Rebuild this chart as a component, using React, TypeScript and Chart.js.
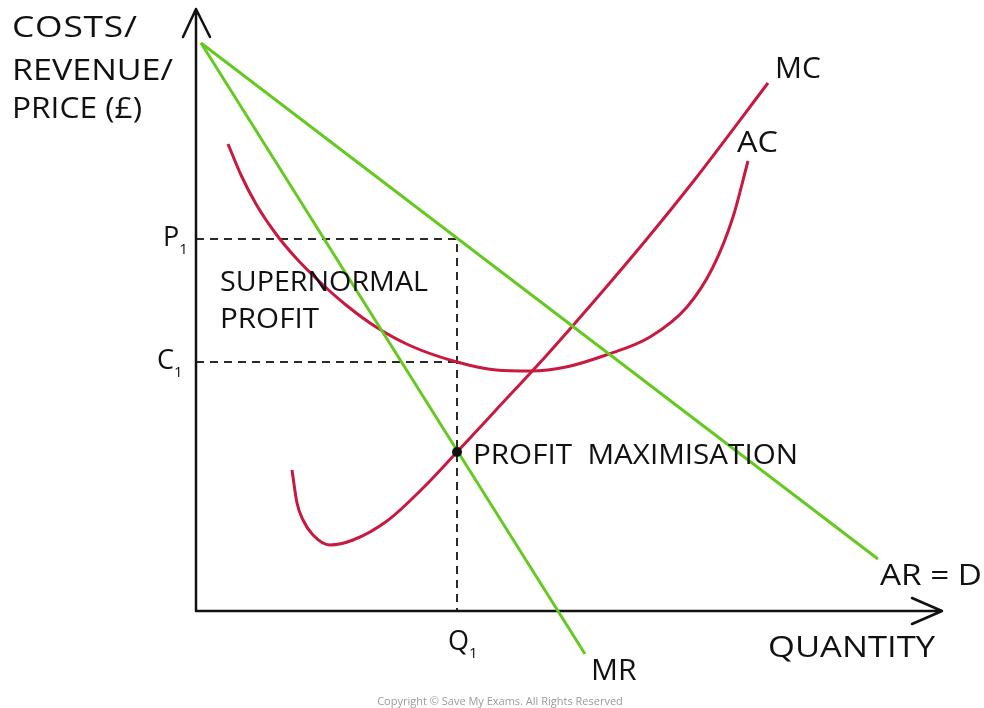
import React, { useEffect, useRef } from "react";
import { Chart, registerables } from "chart.js";

Chart.register(...registerables);

// ---- data (quantity on x, costs / revenue / price on y) ----
const mcQ = [9.6, 10.1, 10.7, 11.7, 13.4, 15.7, 19.1, 22.5, 26.1, 30.0, 35.0, 40.0, 45.0, 50.0, 57.2];
const mcP = [14.1, 10.8, 9.1, 7.6, 6.6, 7.1, 9.0, 12.1, 15.9, 20.1, 25.5, 31.2, 37.1, 43.3, 52.8];

const acQ = [3.2, 4.5, 6.0, 8.0, 10.0, 12.5, 15.0, 18.0, 21.5, 26.1, 30.0, 33.5, 37.0, 41.0, 45.4, 49.1, 51.7, 53.7, 55.2];
const acP = [46.7, 43.6, 40.7, 37.7, 35.3, 32.8, 30.6, 28.4, 26.5, 24.9, 24.1, 24.0, 24.4, 25.6, 27.4, 30.4, 34.4, 39.4, 45.0];

const arQ = [0.5, 68.2];
const arP = [56.8, 5.2];

const mrQ = [0.5, 38.9];
const mrP = [56.8, -4.3];

const Q1 = 26.1;
const P1 = 37.2;
const C1 = 24.9;
const profitMaxP = 15.9;

const xAxisEnd = 74.6;
const yAxisEnd = 60.2;

const RED = "#c8193f";
const GREEN = "#66c922";
const FONT = "'Open Sans', Lato, sans-serif";

const pts = (xs: number[], ys: number[]) => xs.map((x, i) => ({ x, y: ys[i] }));

export default function App() {
  const ref = useRef<HTMLCanvasElement | null>(null);

  useEffect(() => {
    if (!ref.current) return;

    const overlay = {
      id: "overlay",
      beforeDatasetsDraw(chart: any) {
        const { ctx, scales } = chart;
        const X = (v: number) => scales.x.getPixelForValue(v);
        const Y = (v: number) => scales.y.getPixelForValue(v);
        ctx.save();
        // dashed guide lines
        ctx.strokeStyle = "#2a2a2a";
        ctx.lineWidth = 2;
        ctx.setLineDash([8, 6]);
        ctx.beginPath();
        ctx.moveTo(X(0), Y(P1));
        ctx.lineTo(X(Q1), Y(P1));
        ctx.lineTo(X(Q1), Y(0));
        ctx.moveTo(X(0), Y(C1));
        ctx.lineTo(X(Q1), Y(C1));
        ctx.stroke();
        ctx.setLineDash([]);
        // axes
        ctx.strokeStyle = "#111";
        ctx.lineWidth = 2.5;
        ctx.lineCap = "round";
        ctx.lineJoin = "round";
        const ox = X(0), oy = Y(0);
        const ty = Y(yAxisEnd), tx = X(xAxisEnd);
        ctx.beginPath();
        ctx.moveTo(ox, oy);
        ctx.lineTo(ox, ty);
        ctx.moveTo(ox - 13, ty + 28);
        ctx.lineTo(ox, ty);
        ctx.lineTo(ox + 14, ty + 28);
        ctx.moveTo(ox, oy);
        ctx.lineTo(tx, oy);
        ctx.moveTo(tx - 30, oy - 13);
        ctx.lineTo(tx, oy);
        ctx.lineTo(tx - 30, oy + 13);
        ctx.stroke();
        ctx.restore();
      },
      afterDatasetsDraw(chart: any) {
        const { ctx, scales } = chart;
        const X = (v: number) => scales.x.getPixelForValue(v);
        const Y = (v: number) => scales.y.getPixelForValue(v);
        ctx.save();
        ctx.fillStyle = "#111";
        ctx.textBaseline = "alphabetic";
        ctx.textAlign = "left";
        // wide rounded lettering: stretch glyphs a little, then space the rest
        const fit = (text: string, x: number, y: number, size: number, width: number) => {
          ctx.font = `${size}px ${FONT}`;
          ctx.letterSpacing = "0px";
          const w0 = ctx.measureText(text).width;
          const k = Math.min(1.18, Math.max(1, width / w0));
          const n = Math.max(1, text.length - 1);
          const sp = Math.max(0, (width / k - w0) / n);
          ctx.save();
          ctx.translate(x, y);
          ctx.scale(k, 1);
          ctx.letterSpacing = `${sp}px`;
          ctx.fillText(text, 0, 0);
          ctx.restore();
          ctx.letterSpacing = "0px";
        };
        fit("COSTS/", 12, 37, 30, 125);
        fit("REVENUE/", 12, 80, 30, 161);
        fit("PRICE (£)", 12, 118, 30, 130);
        fit("SUPERNORMAL", 220, 291, 28, 208);
        fit("PROFIT", 220, 328, 28, 99);
        fit("PROFIT  MAXIMISATION", X(Q1) + 16, Y(profitMaxP) + 12, 28, 325);
        fit("MC", 775, 78, 30, 44);
        fit("AC", 737, 152, 30, 41);
        fit("AR = D", 880, 585, 29, 102);
        fit("MR", 591, 680, 30, 44);
        fit("QUANTITY", 768, 657, 30, 167);
        // subscripted labels
        const sub = (main: string, x: number, y: number) => {
          ctx.font = `27px ${FONT}`;
          ctx.fillText(main, x, y);
          const w = ctx.measureText(main).width;
          ctx.font = `15px ${FONT}`;
          ctx.fillText("1", x + w, y + 8);
        };
        sub("P", 163, Y(P1) + 7);
        sub("C", 157, Y(C1) + 7);
        sub("Q", X(Q1) - 9, 650);
        // profit maximisation point
        ctx.beginPath();
        ctx.arc(X(Q1), Y(profitMaxP), 5, 0, Math.PI * 2);
        ctx.fill();
        // copyright
        ctx.fillStyle = "#9a9a9a";
        ctx.font = `11px ${FONT}`;
        ctx.textAlign = "center";
        ctx.fillText("Copyright © Save My Exams. All Rights Reserved", 500, 705);
        ctx.restore();
      },
    };

    const chart = new Chart(ref.current, {
      type: "scatter",
      data: {
        datasets: [
          { label: "AR = D", data: pts(arQ, arP), showLine: true, borderColor: GREEN, borderWidth: 3, pointRadius: 0 },
          { label: "MR", data: pts(mrQ, mrP), showLine: true, borderColor: GREEN, borderWidth: 3, pointRadius: 0 },
          { label: "AC", data: pts(acQ, acP), showLine: true, borderColor: RED, borderWidth: 3, pointRadius: 0, cubicInterpolationMode: "monotone" },
          { label: "MC", data: pts(mcQ, mcP), showLine: true, borderColor: RED, borderWidth: 3, pointRadius: 0, cubicInterpolationMode: "monotone" },
        ] as any,
      },
      options: {
        animation: false,
        responsive: false,
        layout: { padding: 0 },
        plugins: { legend: { display: false }, tooltip: { enabled: false } },
        scales: {
          x: { type: "linear", min: -19.6, max: 78.8, display: false },
          y: { type: "linear", min: -9.7, max: 61.1, display: false },
        },
      },
      plugins: [overlay],
    });
    return () => chart.destroy();
  }, []);

  return (
    <div style={{ position: "fixed", left: 0, top: 0, width: 984, height: 708, background: "#fff" }}>
      <canvas ref={ref} width={984} height={708} style={{ width: 984, height: 708, display: "block" }} />
    </div>
  );
}
